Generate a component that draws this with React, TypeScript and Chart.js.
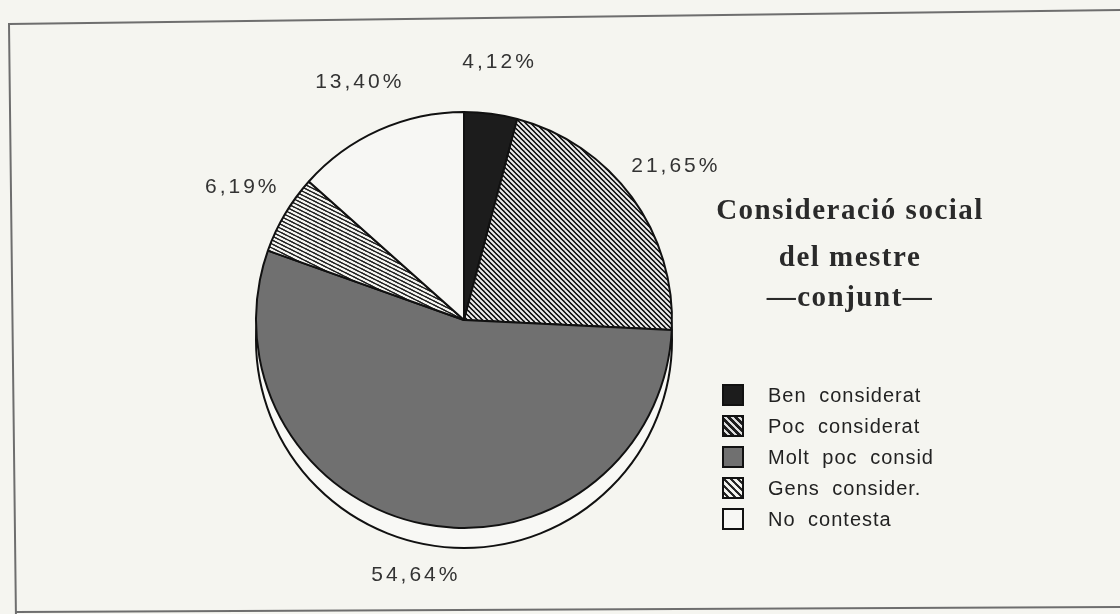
import React, { useEffect, useRef } from "react";
import { Chart, registerables } from "chart.js";

Chart.register(...registerables);

const categories = ["Ben considerat", "Poc considerat", "Molt poc consid", "Gens consider.", "No contesta"];
const values = [4.12, 21.65, 54.64, 6.19, 13.4];
const valueLabels = ["4,12%", "21,65%", "54,64%", "6,19%", "13,40%"];
const titleLines = ["Consideració social", "del mestre", "—conjunt—"];

function stripePattern(ctx: CanvasRenderingContext2D, bg: string, fg: string, w: number, h: number, lw: number) {
  const c = document.createElement("canvas");
  c.width = w;
  c.height = h;
  const x = c.getContext("2d")!;
  x.fillStyle = bg;
  x.fillRect(0, 0, w, h);
  x.strokeStyle = fg;
  x.lineWidth = lw;
  const offs = [[-w, 0], [0, 0], [w, 0], [0, -h], [0, h], [-w, -h], [w, h]];
  for (const [dx, dy] of offs) {
    x.beginPath();
    x.moveTo(dx - w, dy - h);
    x.lineTo(dx + 2 * w, dy + 2 * h);
    x.stroke();
  }
  return ctx.createPattern(c, "repeat")!;
}

export default function App() {
  const ref = useRef<HTMLCanvasElement | null>(null);

  useEffect(() => {
    const canvas = ref.current!;
    const ctx = canvas.getContext("2d")!;
    const pocFill = stripePattern(ctx, "#1b1b1b", "#ececec", 5, 5, 1.4);
    const gensFill = stripePattern(ctx, "#f4f4f0", "#222", 8, 4, 1.1);
    const pocLegend = stripePattern(ctx, "#1b1b1b", "#e0e0e0", 7, 7, 1.6);
    const gensLegend = stripePattern(ctx, "#f4f4f0", "#222", 7, 7, 1.6);
    const fills = ["#1c1c1c", pocFill, "#707070", gensFill, "#f7f7f4"];
    const legendFills = ["#1c1c1c", pocLegend, "#707070", gensLegend, "#f7f7f4"];

    const deco = {
      id: "deco",
      beforeDraw(chart: any) {
        const c = chart.ctx;
        c.save();
        c.fillStyle = "#f5f5f0";
        c.fillRect(0, 0, chart.width, chart.height);
        c.strokeStyle = "#6e6e6e";
        c.lineWidth = 2;
        c.beginPath();
        c.moveTo(1125, 10);
        c.lineTo(9, 24);
        c.lineTo(16, 620);
        c.moveTo(16, 612);
        c.lineTo(1125, 607);
        c.stroke();
        c.restore();
      },
      beforeDatasetsDraw(chart: any) {
        const arc = chart.getDatasetMeta(0).data[0];
        if (!arc) return;
        const c = chart.ctx;
        c.save();
        c.beginPath();
        c.arc(arc.x, arc.y + 20, arc.outerRadius, 0, Math.PI * 2);
        c.fillStyle = "#f8f8f5";
        c.fill();
        c.strokeStyle = "#111";
        c.lineWidth = 2;
        c.stroke();
        c.restore();
      },
      afterDatasetsDraw(chart: any) {
        const c = chart.ctx;
        const meta = chart.getDatasetMeta(0);
        c.save();
        // value labels
        c.font = "21px 'Liberation Sans', Arial, sans-serif";
        (c as any).letterSpacing = "3px";
        c.fillStyle = "#333";
        c.textAlign = "center";
        c.textBaseline = "middle";
        meta.data.forEach((a: any, i: number) => {
          const mid = (a.startAngle + a.endAngle) / 2;
          const R = a.outerRadius + 52;
          c.fillText(valueLabels[i], a.x + Math.cos(mid) * R + 2, a.y + Math.sin(mid) * R);
        });
        // title
        c.font = "bold 29px 'Liberation Serif', 'DejaVu Serif', serif";
        (c as any).letterSpacing = "1.5px";
        c.fillStyle = "#2a2a2a";
        c.textBaseline = "alphabetic";
        const tb = [219, 266, 306];
        titleLines.forEach((t, i) => c.fillText(t, 850, tb[i]));
        // legend
        c.textAlign = "left";
        c.textBaseline = "middle";
        c.font = "20px 'Liberation Sans', Arial, sans-serif";
        (c as any).letterSpacing = "1px";
        (c as any).wordSpacing = "6px";
        categories.forEach((name, i) => {
          const y = 395 + i * 31;
          c.fillStyle = legendFills[i];
          c.fillRect(723, y - 10, 20, 20);
          c.strokeStyle = "#111";
          c.lineWidth = 2;
          c.strokeRect(723, y - 10, 20, 20);
          c.fillStyle = "#222";
          c.fillText(name, 768, y + 1);
        });
        c.restore();
      },
    };

    const chart = new Chart(canvas, {
      type: "pie",
      data: {
        labels: categories,
        datasets: [
          {
            data: values,
            backgroundColor: fills as any,
            borderColor: "#111",
            borderWidth: 2,
          },
        ],
      },
      options: {
        responsive: false,
        animation: false,
        layout: { padding: { left: 255, top: 111, right: 447, bottom: 85 } },
        plugins: { legend: { display: false }, tooltip: { enabled: false } },
      },
      plugins: [deco],
    });
    return () => chart.destroy();
  }, []);

  return (
    <div style={{ position: "fixed", left: 0, top: 0, width: 1120, height: 614 }}>
      <canvas ref={ref} width={1120} height={614} style={{ display: "block" }} />
    </div>
  );
}
